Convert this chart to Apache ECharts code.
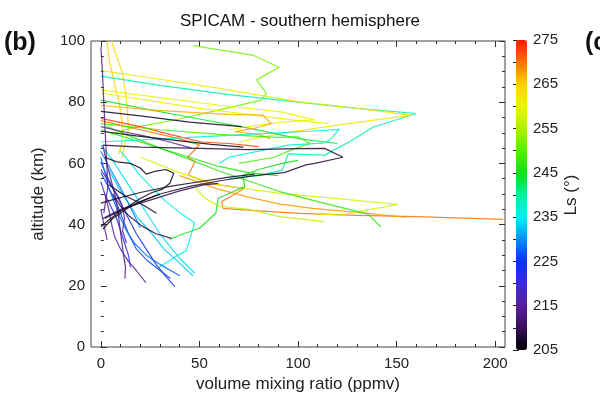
<!DOCTYPE html>
<html>
<head>
<meta charset="utf-8">
<script src="https://cdn.jsdelivr.net/npm/echarts@6/dist/echarts.min.js"></script>
<style>html,body{margin:0;padding:0;background:#fff}#c{width:600px;height:400px}</style>
</head>
<body>
<div id="c"></div>
<script>
// ---- data: profiles [vmr (ppmv), altitude (km)] and their Ls (deg) ----
const xTicks = [0, 50, 100, 150, 200];
const yTicks = [0, 20, 40, 60, 80, 100];
const lsTicks = [205, 215, 225, 235, 245, 255, 265, 275];
const lsStops = [205, 210, 215, 220, 225, 230, 235, 240, 245, 250, 255, 260, 265, 270, 275];
const lsColors = ['#000000','#3a0e5a','#5a1e9a','#3a2ae0','#0a30f0','#0090ff','#00f0f0','#00f0a0','#10e010','#50f000','#b0f000','#e8f800','#ffd000','#ff7000','#ff1800'];

const k1 = [[0,77],[20,75.5],[45,73.5],[71.5,72]];
const k2 = [[0,70.5],[18,69],[38,67.5],[56,66.2],[72.3,65.3]];
const k3 = [[1,66],[20,65.3],[45,65],[75,64.5],[100,64.8],[113.5,64.9],[122.8,62],[108.5,60],[104,59.5],[93,57],[78,56],[62,54.5],[45,52.5],[30,50],[18,47],[8,44],[2,42]];
const k4 = [[2,62],[8,60.5],[15,60],[20,58.5],[23,56.5],[28,57.5],[33,58],[37,56.8],[35,53.5],[31,51.5],[26,50.5],[20,48.5],[14,46],[9,44],[4,41.5],[0,39.3]];
const k5 = [[1,42],[10,45],[25,48],[40,51],[52,53],[59.6,53.5]];
const k6 = [[0,47],[8,48.5],[20,50.5],[35,52.5],[50,54],[65,55.5],[78,56.5]];
const k7 = [[1,38.5],[6,42],[14,45.5],[22,48],[30,50]];
const k8 = [[6,50],[10,46],[14,43],[21,39.5],[28,37],[35.8,35.5]];
const k9 = [[4,53],[12,49.5],[20,47],[28.2,43.7]];
const p1 = [[0,98],[0.8,90],[1.5,80],[2.2,70],[3,60],[3.5,52],[2,46],[1.5,43.7]];
const p2 = [[0,72],[10,70.5],[22,69],[35,67],[46,65]];
const p3 = [[1,66],[3,60],[5,55],[7,50],[8.5,45],[9.5,40],[10.5,35],[11.5,30],[12.5,26],[12.2,22.4]];
const p4 = [[2,50],[4,45],[5.5,40],[7,36],[10,32],[14,28],[18,25],[22.8,21]];
const p5 = [[0,45],[1.5,40],[3.2,35]];
const p6 = [[0,58],[3,55],[6,52],[9,49],[11,46],[12,42],[11,38],[13,34]];
const b1 = [[0,60.5],[3,56],[6,52],[10,47],[14,42],[18,37],[23,32],[28,27],[33,23],[37.5,19.7]];
const b2 = [[0,57],[4,52],[8,47],[11,42],[14,37],[18,32],[24,28],[30,25],[35.3,22.4]];
const b3 = [[0,62],[2,57],[4,52],[7,47],[10,42],[13,38],[17,34],[23,30],[30,27],[40,23.3]];
const b4 = [[0,54],[2,50],[5,46],[8,42],[10,38],[12,34],[14,30],[15,26]];
const b5 = [[0,64],[5,58],[10,52],[14,47],[17,43],[20,39]];
const c1 = [[0,66],[5,62],[10,57],[15,52],[20,47],[25,42],[30,37],[35,33],[40,29],[47.6,24.1]];
const c2 = [[10,64],[15,60],[20,56],[26,52],[33,47.5],[41,43.5],[47.6,40.6],[45,35],[43.4,31.5],[38.4,29.7],[29,25.8]];
const c3 = [[4,58],[9,52],[14,47],[19,42],[26,37],[32,32],[39,28],[46.8,23.2]];
const c4 = [[0,67],[30,68],[60,69],[90,70],[105,70.5],[121,71.1],[116,67.6],[112.7,66.6],[95,66],[80,64],[65,62],[60,60]];
const c5 = [[0,88.5],[30,85.5],[65,82.5],[100,80],[130,78],[160,76.3],[138,71.8],[127,67.4],[113.5,62.7],[95,63.1],[92,57.8],[80,56],[65,55]];
const g1 = [[47,98.5],[77,95.4],[90.4,91.4],[79,87.3],[84,82.9],[81.4,80.7],[60,77.5],[40,74.5],[15,71.5],[5,69.5]];
const g2 = [[3,72],[30,65],[60,57.5],[90.7,50.8],[110,47.5],[132,44],[135.5,43.4],[142,39.3]];
const g3 = [[35,35.2],[42,37],[50,38.8],[58.3,43.7],[59.5,48.6],[66,50.5],[73,52.4],[72,56],[80,58],[92,60],[100,61]];
const g4 = [[0,73],[30,71],[60,69.5],[90,68.5],[100,68.7],[106,66.5],[97,64.5],[88,62],[70,60]];
const g5 = [[0,80.7],[25,77.5],[50,74.5],[75,71.5],[101,68],[120,66.5]];
const g6 = [[0,71],[20,67],[40,63],[60,59],[75,57],[90,56]];
const y1 = [[0,90.3],[30,87.5],[60,84.5],[100,80.2],[130,78],[157.4,75.8],[120,72.5],[97.5,70.4],[85,69],[70,67]];
const y2 = [[0,84],[30,81.5],[60,79],[90.7,76.9],[108.5,74.2],[93,73.6],[80,72.5],[65,71]];
const y3 = [[5.4,100],[8,95],[11,89.5],[12.5,83],[13.5,77],[14,71],[12,66],[11,62]];
const y4 = [[3,100],[4.5,93],[7,86],[9.5,79],[11,72],[10.5,66],[9,63]];
const y5 = [[20,62],[40,57],[60,53],[90.7,50.2],[120,48.5],[150.7,46.6],[121,43.1],[110,43.5]];
const y6 = [[48,52],[53,48.5],[60,46],[75,45],[90.7,42.6],[113.5,41]];
const y7 = [[0,83],[25,80.5],[50,78],[75,76],[100,74],[115,73]];
const o1 = [[0,74],[20,71],[40,68],[50,66],[44,62],[47.8,60.6],[44.4,56.2],[55,53.5],[70,52],[73,51.9],[61.2,47.5],[62,45.3],[80,44.5],[100.9,43.7],[130,43],[160,42.6],[204,41.7]];
const o2 = [[40,56],[60,51.5],[75,49],[90.7,46.7],[107.5,45.3],[130,44],[155,42.4]];
const o3 = [[0,79],[25,77.5],[50,76.5],[65,76],[82,75.8],[86.5,73],[78,71.5],[68,70.4],[80,69.5],[86,68]];
const o4 = [[0,74.7],[20,72],[35,69.5],[51,67],[65,66.5],[80,65.5]];

const profiles = [y3,y4,g1,c5,y1,y2,y7,g5,o3,o4,o1,o2,y5,y6,g2,g3,g4,g6,c4,c1,c2,c3,b1,b2,b3,b4,b5,p1,p2,p3,p4,p5,p6,k1,k2,k3,k4,k5,k6,k7,k8,k9];
const profileLs = [264,265,252,239,262,260,261,244,267,273,270,268,258,256,247,245,249,246,237,234,236,233,224,226,228,221,229,214,215,213,216,214,217,207,206,208,206,209,207,206,208,207];

function hex2rgb(h){return [parseInt(h.substr(1,2),16),parseInt(h.substr(3,2),16),parseInt(h.substr(5,2),16)];}
function lsColor(ls){
  for (let i=0;i<lsStops.length-1;i++){
    if (ls<=lsStops[i+1]){
      const t=(ls-lsStops[i])/(lsStops[i+1]-lsStops[i]);
      const a=hex2rgb(lsColors[i]), b=hex2rgb(lsColors[i+1]);
      return 'rgb('+a.map((v,j)=>Math.round(v+(b[j]-v)*t)).join(',')+')';
    }
  }
  return lsColors[lsColors.length-1];
}

const FONT = 'Liberation Sans, Arial, Helvetica, sans-serif';
const chart = echarts.init(document.getElementById('c'), null, {renderer:'canvas'});

const series = profiles.map((p,i)=>({
  type:'line', xAxisIndex:0, yAxisIndex:0, data:p, symbol:'none', silent:true,
  lineStyle:{width:1.2, color:lsColor(profileLs[i]), opacity:0.85}
}));
series.push({type:'scatter', xAxisIndex:0, yAxisIndex:0, data:[], name:'cb'});

const tickStyle = {show:true, inside:true, length:6, lineStyle:{color:'#333', width:1}};
const minorStyle = (n)=>({show:true, splitNumber:n, length:3, lineStyle:{color:'#333', width:1}});

chart.setOption({
  animation:false,
  backgroundColor:'#fff',
  title:{text:'SPICAM - southern hemisphere', left:'center', top:8,
    textStyle:{fontFamily:FONT, fontSize:17, fontWeight:'normal', color:'#111'}},
  graphic:[
    {type:'text', left:4, top:31, style:{text:'(b)', font:'bold 25px '+FONT, fill:'#111'}},
    {type:'text', left:585, top:31, style:{text:'(c)', font:'bold 25px '+FONT, fill:'#111'}}
  ],
  grid:[
    {left:91, right:95, top:41, bottom:53, show:true, borderColor:'#444', borderWidth:1, backgroundColor:'transparent'},
    {left:100.86, right:104.86, top:41, bottom:53},
    {left:516, right:73, top:40, bottom:50}
  ],
  xAxis:[
    {gridIndex:0, type:'value', min:-5, max:205, show:false},
    {gridIndex:1, type:'value', min:xTicks[0], max:xTicks[xTicks.length-1], interval:50, position:'bottom',
      axisLine:{show:false}, axisTick:tickStyle, minorTick:minorStyle(5), splitLine:{show:false},
      axisLabel:{fontFamily:FONT, fontSize:15, color:'#222', margin:9},
      name:'volume mixing ratio (ppmv)', nameLocation:'middle', nameGap:28,
      nameTextStyle:{fontFamily:FONT, fontSize:17, color:'#222'}},
    {gridIndex:1, type:'value', min:xTicks[0], max:xTicks[xTicks.length-1], interval:50, position:'top',
      axisLine:{show:false}, axisTick:tickStyle, minorTick:minorStyle(5), splitLine:{show:false}, axisLabel:{show:false}},
    {gridIndex:2, type:'value', min:0, max:1, show:false}
  ],
  yAxis:[
    {gridIndex:0, type:'value', min:yTicks[0], max:yTicks[yTicks.length-1], interval:20, position:'left',
      axisLine:{show:false}, axisTick:tickStyle, minorTick:minorStyle(4), splitLine:{show:false},
      axisLabel:{fontFamily:FONT, fontSize:15, color:'#222', margin:6},
      name:'altitude (km)', nameLocation:'middle', nameGap:44, nameRotate:90,
      nameTextStyle:{fontFamily:FONT, fontSize:17, color:'#222'}},
    {gridIndex:0, type:'value', min:0, max:100, interval:20, position:'right',
      axisLine:{show:false}, axisTick:tickStyle, minorTick:minorStyle(4), splitLine:{show:false}, axisLabel:{show:false}},
    {gridIndex:1, type:'value', min:0, max:100, show:false},
    {gridIndex:2, type:'value', min:lsTicks[0], max:lsTicks[lsTicks.length-1], interval:10, position:'right',
      axisLine:{show:false}, axisTick:{show:true, inside:true, length:3, lineStyle:{color:'#222'}}, minorTick:{show:true, splitNumber:2, length:3, lineStyle:{color:'#222'}},
      splitLine:{show:false},
      axisLabel:{fontFamily:FONT, fontSize:15, color:'#222', margin:6},
      name:'Ls (°)', nameLocation:'middle', nameGap:36, nameRotate:90,
      nameTextStyle:{fontFamily:FONT, fontSize:17, color:'#222'}},
    {gridIndex:2, type:'value', min:lsTicks[0], max:lsTicks[lsTicks.length-1], interval:10, position:'left',
      axisLine:{show:false}, axisTick:{show:true, inside:true, length:3, lineStyle:{color:'#222'}}, minorTick:{show:true, splitNumber:2, length:3, lineStyle:{color:'#222'}},
      splitLine:{show:false}, axisLabel:{show:false}}
  ],
  visualMap:{type:'continuous', min:lsStops[0], max:lsStops[lsStops.length-1], seriesIndex:series.length-1,
    left:516, top:40, itemWidth:11, itemHeight:310, padding:0, calculable:false, text:['',''], showLabel:false,
    hoverLink:false, inRange:{color:lsColors}, textStyle:{fontSize:1}},
  series: series
});
</script>
</body>
</html>
